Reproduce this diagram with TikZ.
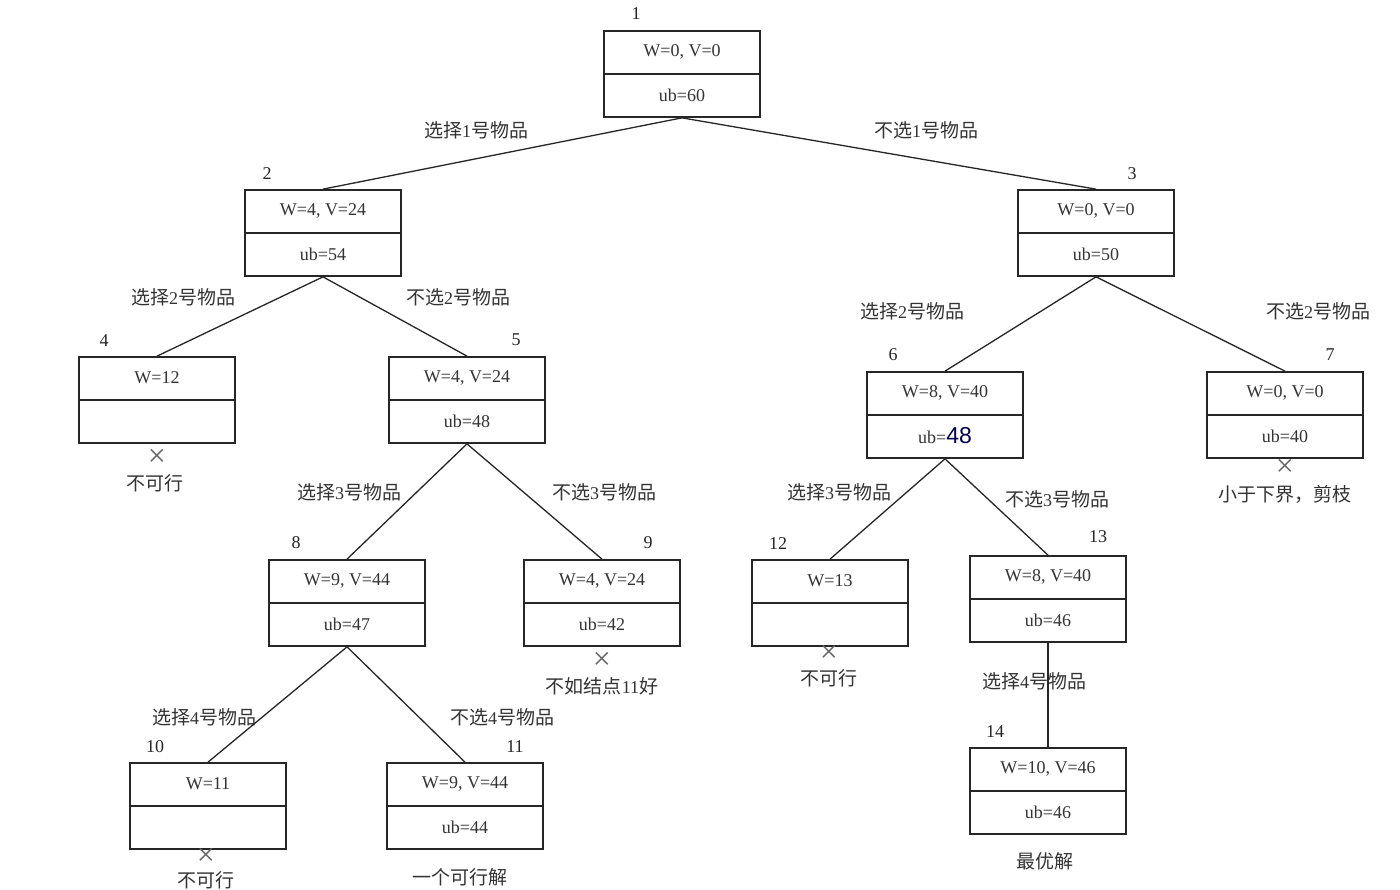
\documentclass[tikz,border=0pt]{standalone}
\usepackage{fontspec}
\setmainfont{Liberation Serif}
\newfontfamily\cjk{Noto Sans CJK SC}
\newfontfamily\sansb{Liberation Sans}
\newcommand\zh[1]{{\cjk\fontsize{19}{21}\selectfont #1}}
\tikzset{
  box/.style={draw=black!85, line width=1.7pt, rectangle, minimum width=156pt, minimum height=86pt, inner sep=0pt},
  divider/.style={draw=black!85, line width=2.2pt},
  txt/.style={inner sep=0pt, text=black!80, font=\fontsize{18}{20}\selectfont},
  num/.style={inner sep=0pt, text=black!85, font=\fontsize{18}{20}\selectfont},
  elabel/.style={inner sep=0pt, text=black!80, font=\fontsize{18}{20}\selectfont},
  note/.style={inner sep=0pt, text=black!80, font=\fontsize{18}{20}\selectfont},
  xmark/.style={inner sep=0pt, text=black!60, font=\fontsize{32}{32}\selectfont},
  edge/.style={draw=black!85, line width=1.3pt}
}
\newcommand\tnode[5]{%
  \node[box] (#1) at (#2+78,#3+43) {};
  \draw[divider] (#1.west) -- (#1.east);
  \node[txt] (#1u) at (#2+78,#3+21) {#4};
  \node[txt] (#1l) at (#2+78,#3+64) {#5};
}
\begin{document}
\begin{tikzpicture}[x=1pt,y=-1pt]
\useasboundingbox (0,0) rectangle (1400,890);
\fill[white] (0,0) rectangle (1400,890);

% tree nodes
\tnode{n1}{604}{31}{W=0, V=0}{ub=60}
\tnode{n2}{245}{190}{W=4, V=24}{ub=54}
\tnode{n3}{1018}{190}{W=0, V=0}{ub=50}
\tnode{n4}{79}{357}{W=12}{}
\tnode{n5}{389}{357}{W=4, V=24}{ub=48}
\tnode{n6}{867}{372}{W=8, V=40}{ub={\sansb\fontsize{23}{23}\selectfont\color{blue!30!black}48}}
\tnode{n7}{1207}{372}{W=0, V=0}{ub=40}
\tnode{n8}{269}{560}{W=9, V=44}{ub=47}
\tnode{n9}{524}{560}{W=4, V=24}{ub=42}
\tnode{n12}{752}{560}{W=13}{}
\tnode{n13}{970}{556}{W=8, V=40}{ub=46}
\tnode{n10}{130}{763}{W=11}{}
\tnode{n11}{387}{763}{W=9, V=44}{ub=44}
\tnode{n14}{970}{748}{W=10, V=46}{ub=46}

% number labels
\node[num] (k1) at (636,14) {1};
\node[num] (k2) at (267,174) {2};
\node[num] (k3) at (1132,174) {3};
\node[num] (k4) at (104,341) {4};
\node[num] (k5) at (516,340) {5};
\node[num] (k6) at (893,355) {6};
\node[num] (k7) at (1330,355) {7};
\node[num] (k8) at (296,543) {8};
\node[num] (k9) at (648,543) {9};
\node[num] (k12) at (778,544) {12};
\node[num] (k13) at (1098,537) {13};
\node[num] (k10) at (155,747) {10};
\node[num] (k11) at (515,747) {11};
\node[num] (k14) at (995,732) {14};

% edge labels
\node[elabel] (l12) at (476,130) {\zh{选择}1\zh{号物品}};
\node[elabel] (l13) at (926,130) {\zh{不选}1\zh{号物品}};
\node[elabel] (l24) at (183,297) {\zh{选择}2\zh{号物品}};
\node[elabel] (l25) at (458,297) {\zh{不选}2\zh{号物品}};
\node[elabel] (l36) at (912,311) {\zh{选择}2\zh{号物品}};
\node[elabel] (l37) at (1318,311) {\zh{不选}2\zh{号物品}};
\node[elabel] (l58) at (349,492) {\zh{选择}3\zh{号物品}};
\node[elabel] (l59) at (604,492) {\zh{不选}3\zh{号物品}};
\node[elabel] (l612) at (839,492) {\zh{选择}3\zh{号物品}};
\node[elabel] (l613) at (1057,499) {\zh{不选}3\zh{号物品}};
\node[elabel] (l810) at (204,717) {\zh{选择}4\zh{号物品}};
\node[elabel] (l811) at (502,717) {\zh{不选}4\zh{号物品}};
\node[elabel] (l1314) at (1034,681) {\zh{选择}4\zh{号物品}};

% edges
\draw[edge] (n1.south) -- (n2.north);
\draw[edge] (n1.south) -- (n3.north);
\draw[edge] (n2.south) -- (n4.north);
\draw[edge] (n2.south) -- (n5.north);
\draw[edge] (n3.south) -- (n6.north);
\draw[edge] (n3.south) -- (n7.north);
\draw[edge] (n5.south) -- (n8.north);
\draw[edge] (n5.south) -- (n9.north);
\draw[edge] (n6.south) -- (n12.north);
\draw[edge] (n6.south) -- (n13.north);
\draw[edge] (n8.south) -- (n10.north);
\draw[edge] (n8.south) -- (n11.north);
\draw[edge] (n13.south) -- (n14.north);

% notes
\node[xmark] (x4) at (157,458) {×};
\node[note] (t4) at (155,483) {\zh{不可行}};
\node[xmark] (x7) at (1285,468) {×};
\node[note] (t7) at (1285,494) {\zh{小于下界，剪枝}};
\node[xmark] (x9) at (602,661) {×};
\node[note] (t9) at (602,686) {\zh{不如结点}11\zh{好}};
\node[xmark] (x12) at (829,654) {×};
\node[note] (t12) at (829,678) {\zh{不可行}};
\node[xmark] (x10) at (206,857) {×};
\node[note] (t10) at (206,880) {\zh{不可行}};
\node[note] (t11) at (460,877) {\zh{一个可行解}};
\node[note] (t14) at (1045,861) {\zh{最优解}};
\end{tikzpicture}
\end{document}
